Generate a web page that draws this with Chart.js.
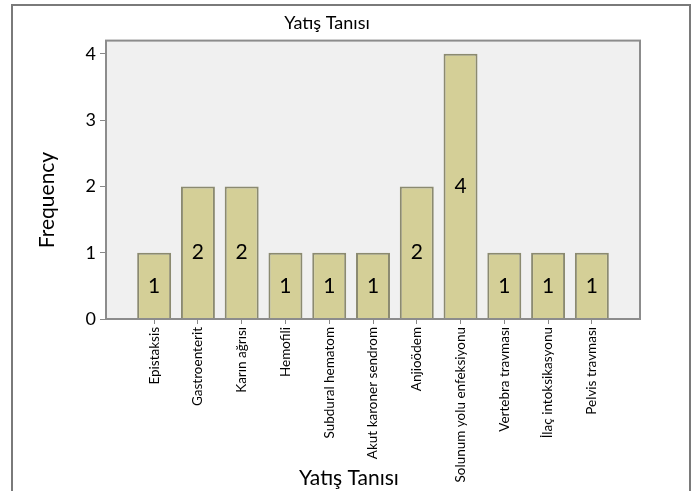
<!DOCTYPE html>
<html>
<head>
<meta charset="utf-8">
<script src="https://cdn.jsdelivr.net/npm/chart.js@4"></script>
<style>
  html, body { margin: 0; padding: 0; background: #fff; }
  #wrap { width: 694px; height: 491px; }
</style>
</head>
<body>
<div id="wrap"><canvas id="yatisChart" width="694" height="491"></canvas></div>
<script>
// data
const categories = ["Epistaksis", "Gastroenterit", "Karın ağrısı", "Hemofili", "Subdural hematom",
    "Akut karoner sendrom", "Anjioödem", "Solunum yolu enfeksiyonu", "Vertebra travması",
    "İlaç intoksikasyonu", "Pelvis travması"];
const frequency = [1, 2, 2, 1, 1, 1, 2, 4, 1, 1, 1];
const yTicks = [0, 1, 2, 3, 4];

const FONT = "Lato";

// outer frame, plot background, axis titles and value labels
const framePlugin = {
    id: "frame",
    beforeDraw(chart) {
        const ctx = chart.ctx, a = chart.chartArea;
        ctx.save();
        ctx.fillStyle = "#fff";
        ctx.fillRect(0, 0, chart.width, chart.height);
        ctx.strokeStyle = "#7a7a7a";
        ctx.lineWidth = 2;
        ctx.strokeRect(12, 5, 678, 500);
        ctx.fillStyle = "#f0f0f0";
        ctx.fillRect(a.left, a.top, a.right - a.left, a.bottom - a.top);
        ctx.restore();
    },
    afterDatasetsDraw(chart) {
        const ctx = chart.ctx, a = chart.chartArea;
        ctx.save();
        ctx.strokeStyle = "#8c8c8c";
        ctx.lineWidth = 2;
        ctx.strokeRect(a.left, a.top, a.right - a.left, a.bottom - a.top);
        ctx.restore();

        const meta = chart.getDatasetMeta(0);
        const y = chart.scales.y;
        ctx.save();
        ctx.fillStyle = "#000";
        ctx.font = "21px " + FONT;
        ctx.textAlign = "center";
        ctx.textBaseline = "middle";
        meta.data.forEach((bar, i) => {
            ctx.fillText(String(frequency[i]), bar.x, y.getPixelForValue(frequency[i] / 2));
        });

        // axis titles
        ctx.fillText("Yatış Tanısı", chart.width / 2 + 2, 478);
        ctx.translate(47, 200);
        ctx.rotate(-Math.PI / 2);
        ctx.fillText("Frequency", 0, 0);
        ctx.restore();
    }
};

new Chart(document.getElementById("yatisChart").getContext("2d"), {
    type: "bar",
    data: {
        datasets: [{
            label: "Frequency",
            data: frequency.map((v, i) => ({ x: i, y: v })),
            backgroundColor: "#d4cf97",
            borderColor: "#8b8a70",
            borderWidth: 2,
            categoryPercentage: 1,
            barPercentage: 0.776
        }]
    },
    options: {
        responsive: false,
        animation: false,
        layout: { padding: { left: 14, right: 54, top: 0, bottom: 4 } },
        plugins: {
            legend: { display: false },
            tooltip: { enabled: false },
            title: {
                display: true,
                text: "Yatış Tanısı",
                color: "#000",
                font: { family: FONT, size: 18, weight: "normal" },
                padding: { top: 12, bottom: 7 }
            }
        },
        scales: {
            x: {
                type: "linear",
                offset: false,
                min: -1.1,
                max: categories.length - 1 + 1.1,
                afterBuildTicks: s => { s.ticks = categories.map((c, i) => ({ value: i })); },
                afterFit: s => { s.height = 168; },
                grid: { offset: false, drawOnChartArea: false, drawTicks: true, tickLength: 5, color: "#888" },
                border: { display: false },
                ticks: {
                    autoSkip: false,
                    minRotation: 90,
                    maxRotation: 90,
                    padding: 3,
                    color: "#000",
                    font: { family: FONT, size: 13.5 },
                    callback: v => categories[v]
                }
            },
            y: {
                min: 0,
                max: 4.2,
                afterBuildTicks: s => { s.ticks = yTicks.map(v => ({ value: v })); },
                afterFit: s => { s.width = 92; },
                grid: { drawOnChartArea: false, drawTicks: true, tickLength: 6, color: "#888" },
                border: { display: false },
                ticks: {
                    padding: 4,
                    color: "#000",
                    font: { family: FONT, size: 18 }
                }
            }
        }
    },
    plugins: [framePlugin]
});
</script>
</body>
</html>
